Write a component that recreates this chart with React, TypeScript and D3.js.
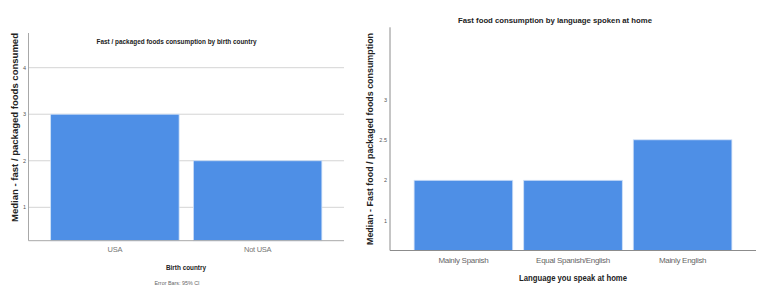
import React from "react";
import * as d3 from "d3";

const leftCategories = ["USA", "Not USA"];
const leftValues = [3, 2];
const leftTicks = [1, 2, 3, 4];

const rightCategories = ["Mainly Spanish", "Equal Spanish/English", "Mainly English"];
const rightValues = [2, 2, 2.5];
const rightTicks = [1, 2, 2.5, 3];
const rightTickLabels = ["1", "2", "2.5", "3"];

const W = 768;
const H = 291;
const FONT = "'Liberation Sans', Arial, sans-serif";
const BAR = "#4e8fe6";
const BAR_EDGE = "#cfe0f7";

export default function App() {
  // Left chart
  const lx0 = 28.5, lx1 = 344, lTop = 33, lBase = 240.7;
  const ly = d3.scaleLinear().domain([1, 4]).range([207.3, 67.7]);
  const lBaseVal = ly.invert(lBase);
  const lxb = d3.scaleBand<string>().domain(leftCategories).range([lx0, lx1]).paddingInner(0.1).paddingOuter(0.155);

  // Right chart
  const rx0 = 390, rx1 = 756, rTop = 27.3, rBase = 250.5;
  const ry = d3.scaleLinear().domain([0, 1, 2, 2.5, 3]).range([rBase, 220.6, 180.3, 139.8, 100.2]);
  const rxb = d3.scaleBand<string>().domain(rightCategories).range([rx0, rx1]).paddingInner(0.1).paddingOuter(0.22);

  return (
    <svg width={W} height={H} style={{ position: "absolute", left: 0, top: 0, background: "#fff" }} fontFamily={FONT}>
      <rect x={0} y={0} width={W} height={H} fill="#fff" />

      {/* ===== Left chart ===== */}
      <g>
        {leftTicks.map((t) => (
          <line key={"lg" + t} x1={lx0} x2={lx1} y1={ly(t)} y2={ly(t)} stroke="#d4d4d4" strokeWidth={1} />
        ))}
        {leftCategories.map((c, i) => (
          <rect
            key={"lb" + c}
            x={lxb(c)}
            y={ly(leftValues[i])}
            width={lxb.bandwidth()}
            height={ly(lBaseVal) - ly(leftValues[i])}
            fill={BAR}
            stroke={BAR_EDGE}
            strokeWidth={0.8}
          />
        ))}
        <line x1={lx0} x2={lx0} y1={lTop} y2={lBase} stroke="#a8a8a8" strokeWidth={1} />
        <line x1={lx0} x2={lx1} y1={lBase} y2={lBase} stroke="#a8a8a8" strokeWidth={1} />
        {leftTicks.map((t) => (
          <text key={"lt" + t} x={26} y={ly(t)} dy="0.35em" fontSize={5.5} fill="#555" textAnchor="end">
            {t}
          </text>
        ))}
        {leftCategories.map((c) => (
          <text
            key={"lc" + c}
            x={(lxb(c) as number) + lxb.bandwidth() / 2}
            y={251.5}
            fontSize={7.5}
            fill="#777"
            textAnchor="middle"
            letterSpacing={-0.3}
          >
            {c}
          </text>
        ))}
        <text x={176.5} y={43.5} fontSize={7} fontWeight="bold" fill="#222" textAnchor="middle" textLength={160} lengthAdjust="spacingAndGlyphs">
          Fast / packaged foods consumption by birth country
        </text>
        <text x={186} y={270} fontSize={8} fontWeight="bold" fill="#222" textAnchor="middle" textLength={40} lengthAdjust="spacingAndGlyphs">
          Birth country
        </text>
        <text x={177} y={285} fontSize={5.5} fill="#666" textAnchor="middle" textLength={45} lengthAdjust="spacingAndGlyphs">
          Error Bars: 95% CI
        </text>
        <text
          transform={`translate(17.5,127.5) rotate(-90)`}
          fontSize={8.3}
          fontWeight="bold"
          fill="#222"
          textAnchor="middle"
          textLength={189}
          lengthAdjust="spacingAndGlyphs"
        >
          Median - fast / packaged foods consumed
        </text>
      </g>

      {/* ===== Right chart ===== */}
      <g>
        {rightCategories.map((c, i) => (
          <rect
            key={"rb" + c}
            x={rxb(c)}
            y={ry(rightValues[i])}
            width={rxb.bandwidth()}
            height={ry(0) - ry(rightValues[i])}
            fill={BAR}
            stroke={BAR_EDGE}
            strokeWidth={0.8}
          />
        ))}
        <line x1={rx0} x2={rx0} y1={rTop} y2={rBase} stroke="#8c8c8c" strokeWidth={1} />
        <line x1={rx0} x2={rx1} y1={rBase} y2={rBase} stroke="#8c8c8c" strokeWidth={1} />
        {rightTicks.map((t, i) => (
          <text key={"rt" + t} x={387} y={ry(t)} dy="0.35em" fontSize={5.5} fill="#555" textAnchor="end">
            {rightTickLabels[i]}
          </text>
        ))}
        {rightCategories.map((c) => (
          <text
            key={"rc" + c}
            x={(rxb(c) as number) + rxb.bandwidth() / 2}
            y={262.5}
            fontSize={8}
            fill="#666"
            textAnchor="middle"
            letterSpacing={-0.3}
          >
            {c}
          </text>
        ))}
        <text x={555} y={22.5} fontSize={8} fontWeight="bold" fill="#222" textAnchor="middle" textLength={194} lengthAdjust="spacingAndGlyphs">
          Fast food consumption by language spoken at home
        </text>
        <text x={573} y={281} fontSize={8.5} fontWeight="bold" fill="#222" textAnchor="middle" textLength={108} lengthAdjust="spacingAndGlyphs">
          Language you speak at home
        </text>
        <text
          transform={`translate(373,139) rotate(-90)`}
          fontSize={8.5}
          fontWeight="bold"
          fill="#222"
          textAnchor="middle"
          textLength={212}
          lengthAdjust="spacingAndGlyphs"
        >
          Median - Fast food / packaged foods consumption
        </text>
      </g>
    </svg>
  );
}
